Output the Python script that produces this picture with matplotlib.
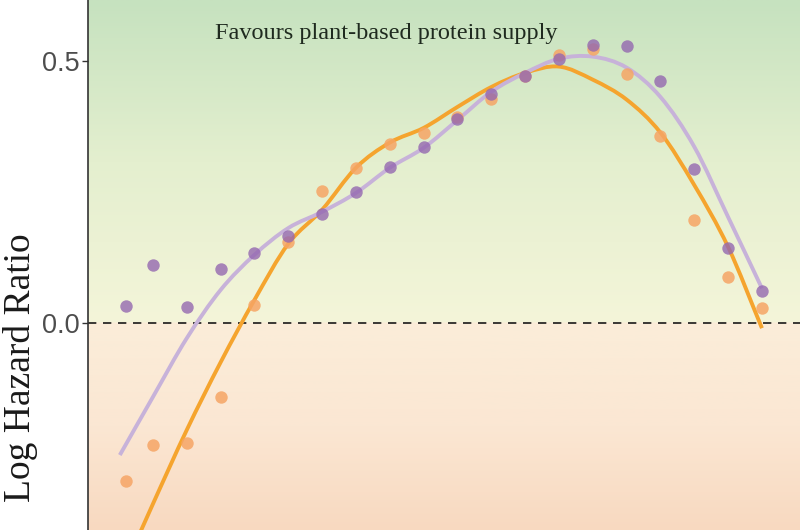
import numpy as np
import matplotlib.pyplot as plt
from matplotlib.colors import LinearSegmentedColormap
from matplotlib.path import Path
from matplotlib.patches import PathPatch

# observed points, x = position index
x_pts = [1.2] + list(range(2, 21))
purple_pts = [0.032, 0.111, 0.031, 0.103, 0.134, 0.166, 0.208, 0.250, 0.298, 0.336,
              0.389, 0.437, 0.471, 0.504, 0.531, 0.529, 0.462, 0.294, 0.143, 0.061]
orange_pts = [-0.302, -0.233, -0.229, -0.141, 0.034, 0.155, 0.252, 0.296, 0.342, 0.363,
              0.393, 0.427, 0.471, 0.511, 0.523, 0.475, 0.357, 0.197, 0.088, 0.029]

# smoothed curves
x_curve = [1.02] + list(range(2, 21))
purple_curve = [-0.252, -0.141, -0.029, 0.063, 0.130, 0.181, 0.212, 0.248, 0.296,
                0.334, 0.387, 0.441, 0.477, 0.504, 0.508, 0.487, 0.431, 0.336, 0.202, 0.066]
orange_curve = [-0.487, -0.345, -0.204, -0.075, 0.044, 0.151, 0.216, 0.296, 0.344,
                0.372, 0.412, 0.450, 0.477, 0.489, 0.464, 0.426, 0.363, 0.263, 0.145, -0.010]

ymin, ymax = -0.395, 0.616
xmin, xmax = 0.079, 21.125


def smooth_path(xs, ys):
    # Catmull-Rom style bezier through the given points
    p = np.column_stack([xs, ys])
    verts = [p[0]]
    codes = [Path.MOVETO]
    for i in range(len(p) - 1):
        p0 = p[i - 1] if i > 0 else 2 * p[i] - p[i + 1]
        p3 = p[i + 2] if i + 2 < len(p) else 2 * p[i + 1] - p[i]
        c1 = p[i] + (p[i + 1] - p0) / 6
        c2 = p[i + 1] - (p3 - p[i]) / 6
        verts += [c1, c2, p[i + 1]]
        codes += [Path.CURVE4] * 3
    return Path(verts, codes)


fig = plt.figure(figsize=(8, 5.3), dpi=100)
ax = fig.add_axes([88 / 800, 0, 712 / 800, 1])

# background gradient
ys = np.linspace(ymin, ymax, 600)
top = LinearSegmentedColormap.from_list('top', ['#f4f5d9', '#e4efcf', '#c6e2bf'])
bot = LinearSegmentedColormap.from_list('bot', ['#f8d9c0', '#fbe7d3', '#fbedd9'])
img = np.zeros((len(ys), 1, 3))
for i, v in enumerate(ys):
    if v >= 0:
        img[i, 0] = top(v / ymax)[:3]
    else:
        img[i, 0] = bot(1 - v / ymin)[:3]
ax.imshow(img, extent=[xmin, xmax, ymin, ymax], origin='lower', aspect='auto', zorder=0)

ax.axhline(0, color='#1a1a1a', lw=1.2, ls=(0, (5, 4)), zorder=1)

ax.add_patch(PathPatch(smooth_path(x_curve, orange_curve), fill=False,
                       edgecolor='#f5a42e', lw=2.8, zorder=2, capstyle='butt'))
ax.add_patch(PathPatch(smooth_path(x_curve, purple_curve), fill=False,
                       edgecolor='#c7b2d9', lw=2.8, zorder=2, capstyle='butt'))
ax.scatter(x_pts, orange_pts, s=80, color='#f6a565', alpha=0.85, lw=0, zorder=3)
ax.scatter(x_pts, purple_pts, s=80, color='#9468b0', alpha=0.8, lw=0, zorder=4)

ax.text(8.9, 0.553, 'Favours plant-based protein supply', family='Liberation Serif',
        fontsize=17.5, color='#1f2a1f', ha='center', va='center')

ax.set_xlim(xmin, xmax)
ax.set_ylim(ymin, ymax)
ax.set_yticks([0.0, 0.5])
ax.set_yticklabels(['0.0', '0.5'])
ax.set_xticks([])
ax.tick_params(axis='y', length=4, width=1, color='#333333', labelsize=19.5,
               labelcolor='#4d4d4d', pad=2)
for lab in ax.get_yticklabels():
    lab.set_family('Liberation Sans')
for s in ['top', 'right', 'bottom']:
    ax.spines[s].set_visible(False)
ax.spines['left'].set_color('#333333')
ax.spines['left'].set_linewidth(1.2)

fig.text(0.026, 0.306, 'Log Hazard Ratio', rotation=90, family='Liberation Serif',
         fontsize=27, color='#1a1a1a', ha='center', va='center')

fig.savefig('out.png', dpi=100)
